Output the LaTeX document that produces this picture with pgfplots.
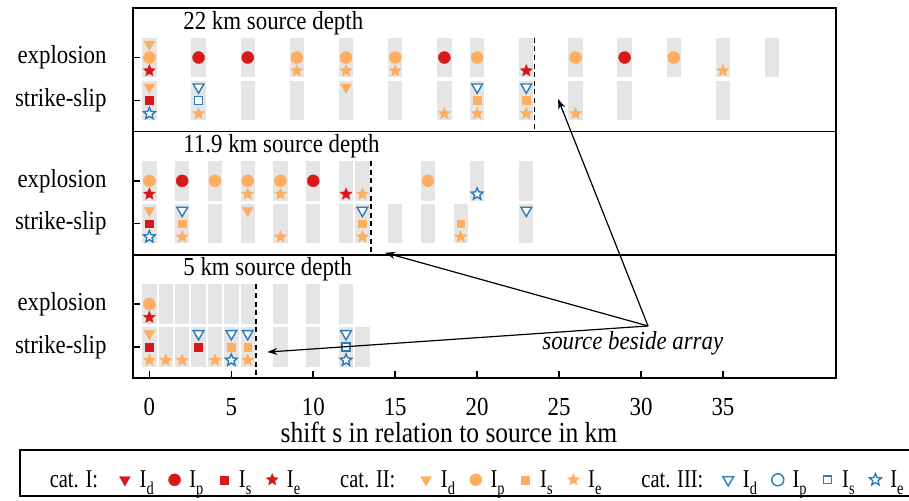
\documentclass[border=0pt]{standalone}
\usepackage{fontspec}
\setmainfont[FakeStretch=0.88]{Liberation Serif}
\newfontfamily\legfont[FakeStretch=0.8]{Liberation Serif}
\usepackage{pgfplots}
\pgfplotsset{compat=1.18}
\usetikzlibrary{arrows.meta}

\definecolor{cI}{HTML}{D7191C}
\definecolor{cII}{HTML}{FDAE61}
\definecolor{cIII}{HTML}{2C7BB6}
\definecolor{barcol}{HTML}{E5E5E5}

% filled five-pointed star
\pgfdeclareplotmark{fstar}{%
  \pgfpathmoveto{\pgfpointpolar{90}{\pgfplotmarksize}}%
  \pgfpathlineto{\pgfpointpolar{126}{0.45\pgfplotmarksize}}%
  \pgfpathlineto{\pgfpointpolar{162}{\pgfplotmarksize}}%
  \pgfpathlineto{\pgfpointpolar{198}{0.45\pgfplotmarksize}}%
  \pgfpathlineto{\pgfpointpolar{234}{\pgfplotmarksize}}%
  \pgfpathlineto{\pgfpointpolar{270}{0.45\pgfplotmarksize}}%
  \pgfpathlineto{\pgfpointpolar{306}{\pgfplotmarksize}}%
  \pgfpathlineto{\pgfpointpolar{342}{0.45\pgfplotmarksize}}%
  \pgfpathlineto{\pgfpointpolar{18}{\pgfplotmarksize}}%
  \pgfpathlineto{\pgfpointpolar{54}{0.45\pgfplotmarksize}}%
  \pgfpathclose
  \pgfusepathqfillstroke}
% gray station bar
\pgfdeclareplotmark{gbar}{%
  \pgfpathrectangle{\pgfpoint{-3.6pt}{-9.85pt}}{\pgfpoint{7.2pt}{19.7pt}}%
  \pgfusepathqfill}

\tikzset{
  f1/.style={fill=cI, draw=cI, line width=0.2pt},
  f2/.style={fill=cII, draw=cII, line width=0.2pt},
  o3/.style={fill=white, draw=cIII, line width=0.7pt},
}
\pgfplotsset{
  bars/.style={only marks, mark=gbar, color=barcol, mark options={fill=barcol}},
  dline/.style={black, line width=0.9pt, dash pattern=on 2.5pt off 1.8pt},
  Id/.style={only marks, mark=triangle*, mark size=3.1pt, mark options={rotate=180,#1}},
  Ip/.style={only marks, mark=*, mark size=3pt, mark options={#1}},
  Is/.style={only marks, mark=square*, mark size=1.95pt, mark options={#1}},
  Ie/.style={only marks, mark=fstar, mark size=3.1pt, mark options={#1}},
  panel/.style={
    scale only axis, width=351.5pt, height=61.65pt, anchor=south west,
    xmin=-1, xmax=41.9, ymin=-0.726, ymax=2.155,
    ytick={0,1}, yticklabels={strike-slip,explosion},
    ytick pos=left, xtick pos=bottom, tick align=inside,
    major tick length=3.5pt,
    axis line style={line width=0.9pt},
    tick style={black, line width=0.8pt},
    yticklabel style={anchor=east, xshift=-8.7pt},
    xticklabel style={anchor=base, yshift=-18.5pt},
    /pgf/number format/assume math mode=true,
  },
}
\newcommand{\lrule}{\rule[-8pt]{0pt}{25pt}}
\newcommand{\lent}[1]{\lrule I\raisebox{-3.5pt}{\fontsize{9}{10}\selectfont #1}\hspace*{3pt}}

\begin{document}
\fontsize{13}{15}\selectfont
\begin{tikzpicture}
\useasboundingbox (0,0) rectangle (454.5pt,250pt);
\clip (0,0) rectangle (454.5pt,250pt);

% 22 km
\begin{axis}[panel, at={(66.5pt,184.3pt)}, xtick=\empty]
\addplot[bars] coordinates {(0,1)(3,1)(6,1)(9,1)(12,1)(15,1)(18,1)(20,1)(23,1)(26,1)(29,1)(32,1)(35,1)(38,1)};
\addplot[bars] coordinates {(0,0)(3,0)(6,0)(9,0)(12,0)(15,0)(18,0)(20,0)(23,0)(26,0)(29,0)(35,0)};
\addplot[dline] coordinates {(23.5,1.46)(23.5,-0.726)};
\addplot[Ip=f1] coordinates {(3,1)(6,1)(18,1)(29,1)};
\addplot[Is=f1] coordinates {(0,0)};
\addplot[Ie=f1] coordinates {(0,0.69)(23,0.69)};
\addplot[Id=f2] coordinates {(0,1.31)(0,0.31)(12,0.31)};
\addplot[Ip=f2] coordinates {(0,1)(9,1)(12,1)(15,1)(20,1)(26,1)(32,1)};
\addplot[Is=f2] coordinates {(20,0)(23,0)};
\addplot[Ie=f2] coordinates {(9,0.69)(12,0.69)(15,0.69)(35,0.69)(3,-0.31)(18,-0.31)(20,-0.31)(23,-0.31)(26,-0.31)};
\addplot[Id=o3] coordinates {(3,0.31)(20,0.31)(23,0.31)};
\addplot[Is=o3] coordinates {(3,0)};
\addplot[Ie=o3] coordinates {(0,-0.31)};
\coordinate (T) at (axis cs:24.94,0.03);
\node[anchor=base west, inner sep=0pt] at (rel axis cs:0.0711,0.83) {22 km source depth};
\end{axis}

% 11.9 km
\begin{axis}[panel, at={(66.5pt,122.65pt)}, xtick=\empty]
\addplot[bars] coordinates {(0,1)(2,1)(4,1)(6,1)(8,1)(10,1)(12,1)(13,1)(17,1)(20,1)(23,1)};
\addplot[bars] coordinates {(0,0)(2,0)(4,0)(6,0)(8,0)(10,0)(12,0)(13,0)(15,0)(17,0)(19,0)(23,0)};
\addplot[dline] coordinates {(13.5,1.46)(13.5,-0.726)};
\addplot[Ip=f1] coordinates {(2,1)(10,1)};
\addplot[Is=f1] coordinates {(0,0)};
\addplot[Ie=f1] coordinates {(0,0.69)(12,0.69)};
\addplot[Id=f2] coordinates {(0,0.31)(6,0.31)};
\addplot[Ip=f2] coordinates {(0,1)(4,1)(6,1)(8,1)(17,1)};
\addplot[Is=f2] coordinates {(2,0)(13,0)(19,0)};
\addplot[Ie=f2] coordinates {(6,0.69)(8,0.69)(13,0.69)(2,-0.31)(8,-0.31)(13,-0.31)(19,-0.31)};
\addplot[Id=o3] coordinates {(2,0.31)(13,0.31)(23,0.31)};
\addplot[Ie=o3] coordinates {(20,0.69)(0,-0.31)};
\coordinate (M) at (axis cs:14.39,-0.68);
\node[anchor=base west, inner sep=0pt] at (rel axis cs:0.0711,0.83) {11.9 km source depth};
\end{axis}

% 5 km
\begin{axis}[panel, at={(66.5pt,61pt)},
  xtick={0,5,...,35},
  xlabel={shift s in relation to source in km},
  xlabel style={font=\fontsize{14.5}{16}\selectfont, at={(axis description cs:0.4495,0)}, anchor=base, yshift=-32pt},
  legend columns=15,
  legend image code/.code={\path (0pt,4pt) (10pt,4pt); \draw[mark repeat=2,mark phase=2,#1] plot coordinates {(0pt,4pt)(5pt,4pt)(10pt,4pt)};},
  legend style={at={(axis description cs:-0.16216,-0.5758)}, anchor=north west,
    draw=black, line width=0.8pt, inner xsep=0pt, inner ysep=0pt, column sep=0pt,
    font=\legfont\fontsize{12.8}{14}\selectfont,
    cells={anchor=base west, inner xsep=3.5pt, inner ysep=0pt}},
]
\addlegendimage{empty legend}\addlegendentry{\lrule\hspace*{13pt}cat. I:\hspace*{6pt}}
\addlegendimage{Id=f1}\addlegendentry{\lent{d}}
\addlegendimage{Ip=f1}\addlegendentry{\lent{p}}
\addlegendimage{Is=f1}\addlegendentry{\lent{s}}
\addlegendimage{Ie=f1}\addlegendentry{\lent{e}}
\addlegendimage{empty legend}\addlegendentry{\lrule\hspace*{13pt}cat. II:\hspace*{8pt}}
\addlegendimage{Id=f2}\addlegendentry{\lent{d}}
\addlegendimage{Ip=f2}\addlegendentry{\lent{p}}
\addlegendimage{Is=f2}\addlegendentry{\lent{s}}
\addlegendimage{Ie=f2}\addlegendentry{\lent{e}}
\addlegendimage{empty legend}\addlegendentry{\lrule\hspace*{13pt}cat. III:\hspace*{5pt}}
\addlegendimage{Id=o3}\addlegendentry{\lent{d}}
\addlegendimage{Ip=o3}\addlegendentry{\lent{p}}
\addlegendimage{Is=o3}\addlegendentry{\lent{s}}
\addlegendimage{Ie=o3}\addlegendentry{\lent{e}}

\addplot[bars] coordinates {(0,1)(1,1)(2,1)(3,1)(4,1)(5,1)(6,1)(8,1)(10,1)(12,1)};
\addplot[bars] coordinates {(0,0)(1,0)(2,0)(3,0)(4,0)(5,0)(6,0)(8,0)(10,0)(12,0)(13,0)};
\addplot[dline] coordinates {(6.5,1.46)(6.5,-0.726)};
\addplot[Is=f1] coordinates {(0,0)(3,0)};
\addplot[Ie=f1] coordinates {(0,0.69)};
\addplot[Id=f2] coordinates {(0,0.31)};
\addplot[Ip=f2] coordinates {(0,1)};
\addplot[Is=f2] coordinates {(5,0)(6,0)};
\addplot[Ie=f2] coordinates {(0,-0.31)(1,-0.31)(2,-0.31)(4,-0.31)(6,-0.31)};
\addplot[Id=o3] coordinates {(3,0.31)(5,0.31)(6,0.31)(12,0.31)};
\addplot[Is=o3] coordinates {(12,0)};
\addplot[Ie=o3] coordinates {(5,-0.31)(12,-0.31)};
\coordinate (S) at (axis cs:30.43,0.49);
\coordinate (B) at (axis cs:7.2,-0.12);
\node[anchor=base west, inner sep=0pt] at (rel axis cs:0.0711,0.83) {5 km source depth};
\node[anchor=base, font=\itshape] at (axis cs:29.5,-0.07) {source beside array};
\end{axis}

\draw[line width=0.6pt, -{Stealth[length=5pt,width=3.5pt]}] (S) -- (T);
\draw[line width=0.6pt, -{Stealth[length=5pt,width=3.5pt]}] (S) -- (M);
\draw[line width=0.6pt, -{Stealth[length=5pt,width=3.5pt]}] (S) -- (B);
\end{tikzpicture}
\end{document}
